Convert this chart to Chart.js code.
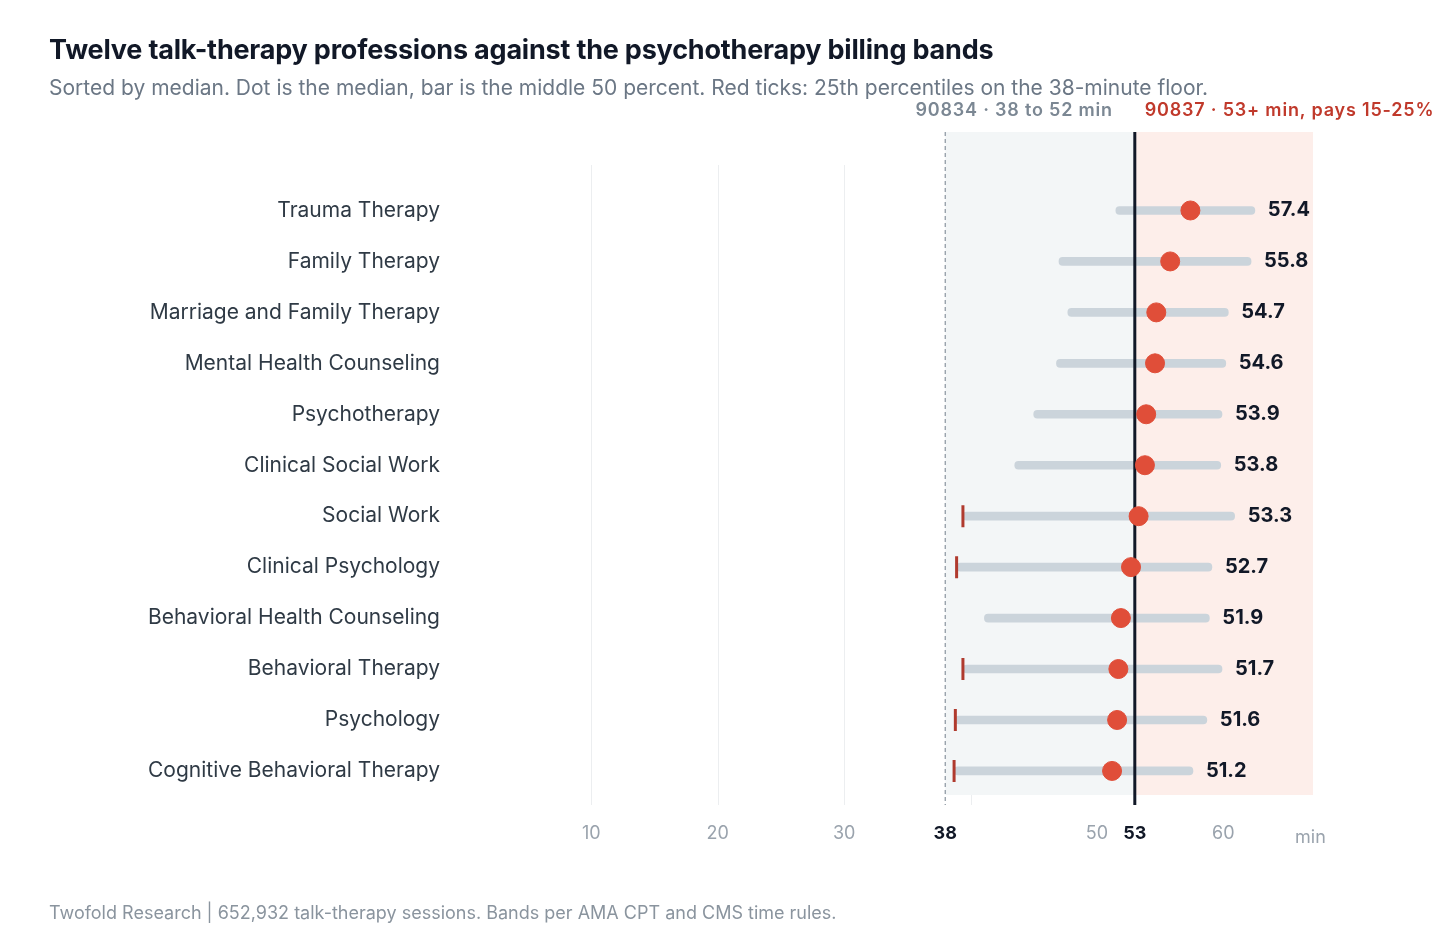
<!DOCTYPE html>
<html><head><meta charset="utf-8">
<script src="https://cdn.jsdelivr.net/npm/chart.js@4.4.1/dist/chart.umd.min.js"></script>
<style>
body{margin:0;background:#fff;font-family:Inter,"Noto Sans",sans-serif;}
#wrap{position:relative;width:1440px;height:948px;}
canvas{position:absolute;left:0;top:0;}
h1{position:absolute;left:49px;top:33px;margin:0;font-size:27px;font-weight:700;color:#111827;letter-spacing:-0.2px;}
.sub{position:absolute;left:49px;top:75px;font-size:21px;color:#6b7785;}
.foot{position:absolute;left:49px;top:902px;font-size:18px;color:#8a949e;}
</style></head><body>
<div id="wrap">
<canvas id="c" width="1440" height="948"></canvas>
<h1>Twelve talk-therapy professions against the psychotherapy billing bands</h1>
<div class="sub">Sorted by median. Dot is the median, bar is the middle 50 percent. Red ticks: 25th percentiles on the 38-minute floor.</div>
<div class="foot">Twofold Research | 652,932 talk-therapy sessions. Bands per AMA CPT and CMS time rules.</div>
</div>
<script>
const professions = ['Trauma Therapy','Family Therapy','Marriage and Family Therapy','Mental Health Counseling','Psychotherapy','Clinical Social Work','Social Work','Clinical Psychology','Behavioral Health Counseling','Behavioral Therapy','Psychology','Cognitive Behavioral Therapy'];
const medians = [57.4,55.8,54.7,54.6,53.9,53.8,53.3,52.7,51.9,51.7,51.6,51.2];
const q1 = [51.5,47.0,47.7,46.8,45.0,43.5,39.4,38.9,41.1,39.4,38.8,38.7];
const q3 = [62.5,62.2,60.4,60.2,59.9,59.8,60.9,59.1,58.9,59.9,58.7,57.6];
const floorFlag = [false,false,false,false,false,false,true,true,false,true,true,true];
const xTicks = [10,20,30,38,50,53,60];
const gridVals = [10,20,30,40];
const FLOOR = 38, LONG = 53, XMAX = 67.1;

const overlay = {
  id:'overlay',
  beforeDatasetsDraw(chart){
    const {ctx, scales:{x}, chartArea:a} = chart;
    ctx.save();
    ctx.strokeStyle='#eceef0'; ctx.lineWidth=1;
    gridVals.forEach(v=>{const px=Math.round(x.getPixelForValue(v))+0.5;ctx.beginPath();ctx.moveTo(px,165);ctx.lineTo(px,805);ctx.stroke();});
    const x38=x.getPixelForValue(FLOOR), x53=x.getPixelForValue(LONG), xm=x.getPixelForValue(XMAX);
    ctx.fillStyle='#f3f6f7'; ctx.fillRect(x38,132,x53-x38,795-132);
    ctx.fillStyle='#fdeeea'; ctx.fillRect(x53,132,xm-x53,795-132);
    ctx.strokeStyle='#8a949e'; ctx.lineWidth=1.2; ctx.setLineDash([4,3]);
    ctx.beginPath();ctx.moveTo(x38,132);ctx.lineTo(x38,805);ctx.stroke();ctx.setLineDash([]);
    ctx.font='600 18px Inter'; ctx.textBaseline='middle';
    if('letterSpacing' in ctx) ctx.letterSpacing='0.8px';
    ctx.fillStyle='#7b8793'; ctx.textAlign='right'; ctx.fillText('90834 · 38 to 52 min',x53-22,111);
    ctx.fillStyle='#c0392b'; ctx.textAlign='left'; ctx.fillText('90837 · 53+ min, pays 15-25%',x53+10,111);
    if('letterSpacing' in ctx) ctx.letterSpacing='0px';
    ctx.font='21px Inter'; ctx.fillStyle='#2f3a45'; ctx.textAlign='right';
    const y=chart.scales.y;
    professions.forEach((p,i)=>ctx.fillText(p,440,y.getPixelForValue(i)));
    ctx.font='18px Inter'; ctx.fillStyle='#9aa3ad'; ctx.textAlign='center';
    ctx.fillText('min',x.getPixelForValue(66.9),838);
    ctx.restore();
  },
  afterDatasetDraw(chart,args){
    if(args.index!==0) return;
    const {ctx, scales:{x}} = chart;
    const x53=x.getPixelForValue(LONG);
    ctx.save(); ctx.strokeStyle='#111827'; ctx.lineWidth=3;
    ctx.beginPath();ctx.moveTo(x53,132);ctx.lineTo(x53,805);ctx.stroke();
    ctx.restore();
  },
  afterDatasetsDraw(chart){
    const {ctx, scales:{x,y}} = chart;
    ctx.save(); ctx.font='700 20px Inter'; ctx.fillStyle='#111827'; ctx.textBaseline='middle'; ctx.textAlign='left';
    medians.forEach((m,i)=>ctx.fillText(m.toFixed(1),x.getPixelForValue(q3[i])+13,y.getPixelForValue(i)));
    ctx.restore();
  }
};

new Chart(document.getElementById('c'),{
  data:{labels:professions,datasets:[
    {type:'bar',data:q1.map((v,i)=>[v,q3[i]]),backgroundColor:'#cbd4db',barThickness:8,borderRadius:4,borderSkipped:false,order:3},
    {type:'scatter',data:professions.map((p,i)=>floorFlag[i]?{x:q1[i],y:p}:null).filter(Boolean),pointStyle:'line',rotation:90,radius:11,borderColor:'#b03a2e',borderWidth:3,order:2},
    {type:'scatter',data:professions.map((p,i)=>({x:medians[i],y:p})),backgroundColor:'#e04e39',borderColor:'#e04e39',radius:9.5,order:1}
  ]},
  options:{
    indexAxis:'y',responsive:false,animation:false,
    layout:{padding:{left:457,right:127,top:185,bottom:86}},
    plugins:{legend:{display:false},tooltip:{enabled:false}},
    scales:{
      x:{type:'linear',min:0,max:XMAX,grid:{display:false},border:{display:false},
        afterBuildTicks(s){s.ticks=xTicks.map(v=>({value:v}));},
        ticks:{padding:18,autoSkip:false,maxRotation:0,
          font:c=>({family:'Inter',size:18,weight:(c.tick&&(c.tick.value===38||c.tick.value===53))?'700':'400'}),
          color:c=>(c.tick&&(c.tick.value===38||c.tick.value===53))?'#111827':'#9aa3ad'}},
      y:{type:'category',offset:true,grid:{display:false},border:{display:false},ticks:{display:false}}
    }
  },
  plugins:[overlay]
});
</script>
</body></html>
